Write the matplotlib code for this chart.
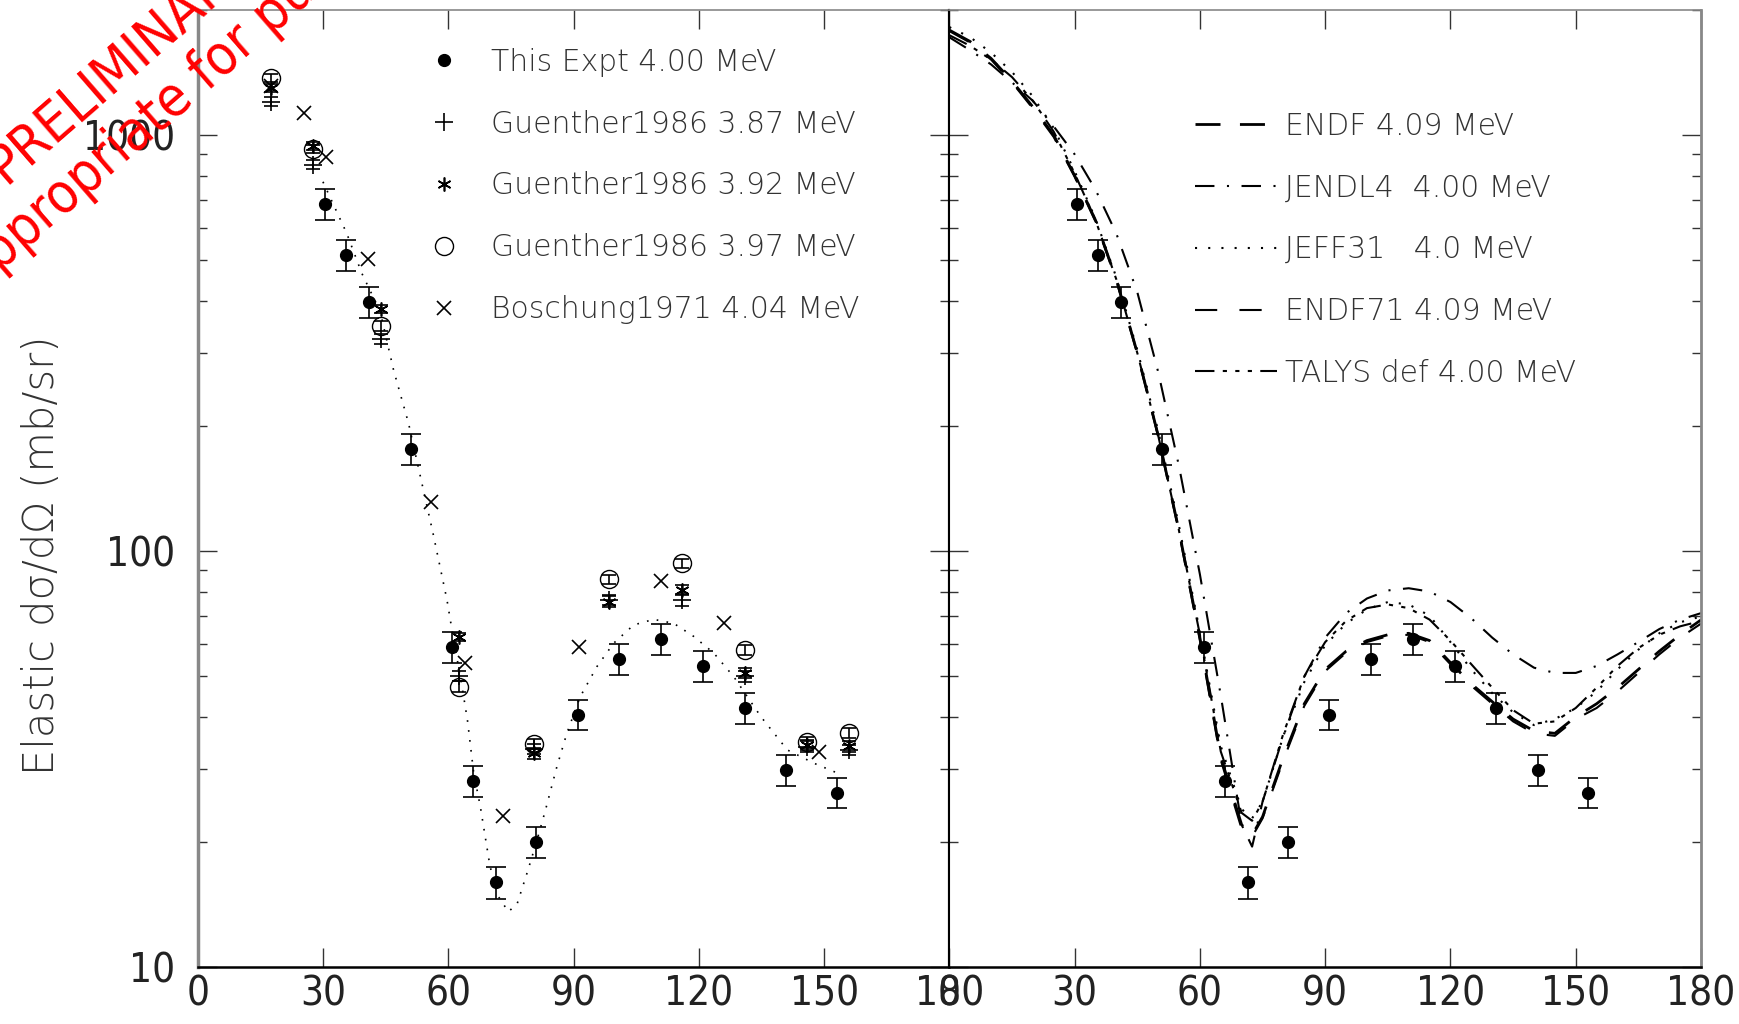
import numpy as np
import matplotlib
matplotlib.use("Agg")
import matplotlib.pyplot as plt
from matplotlib.ticker import LogLocator, NullFormatter

plt.rcParams['lines.scale_dashes'] = False

# ---- data ----
# this experiment, 4.00 MeV
expt_ang = [30.5, 35.5, 41, 51, 61, 66, 71.5, 81, 91, 101, 111, 121, 131, 141, 153]
expt_xs = [683, 515, 398, 176, 58.9, 28.0, 16.0, 20.0, 40.5, 55.0, 61.5, 53.1, 42.0, 29.8, 26.3]
expt_err = [58, 44, 34, 15, 5.0, 2.4, 1.4, 1.7, 3.4, 4.7, 5.2, 4.5, 3.6, 2.5, 2.2]

# Guenther 1986
g_ang = [17.5, 27.5, 44, 62.5, 80.5, 98.5, 116, 131, 146, 156]
g387 = [1205, 850, 324, 50.2, 33.5, 76.5, 76.4, 50.0, 33.9, 33.3]
g392 = [1300, 942, 382, 62.1, 32.7, 75.7, 80.7, 51.0, 34.2, 34.0]
g397 = [1374, 927, 348, 47.3, 34.4, 85.6, 93.5, 57.9, 34.7, 36.6]
g_err = [30, 22, 9, 1.4, 1.0, 2.2, 2.4, 1.5, 1.0, 1.0]

# Boschung 1971
b_ang = [17.5, 25.5, 30.7, 40.9, 55.8, 64.1, 73.1, 91.3, 111, 126, 148.7]
b_xs = [1310, 1133, 885, 504, 131, 53.8, 23.1, 59.0, 85.0, 67.1, 32.9]

# dotted fit through this experiment
fit_ang = [30, 33.3, 35.7, 39.3, 43.7, 46.9, 50.5, 56.4, 59.7, 60.9, 63.3, 64.6, 66.1,
           67.7, 70, 72, 74.4, 76.5, 79, 81, 83.2, 86, 88.4, 91.6, 95.6, 99.6, 104.4,
           109.2, 114, 118.8, 123.6, 128.4, 134.9, 141.2, 147.7, 153.2]
fit_xs = [773, 655, 581, 466, 377, 273, 203, 110, 76.4, 64.7, 47.3, 39.3, 29.3,
          24.3, 17.5, 14.8, 13.6, 14.2, 17.0, 19.8, 23.7, 30.3, 36.5, 44.7, 52.8, 60.1, 66.5,
          68.6, 67.1, 62.4, 56.9, 49.9, 40.0, 33.3, 30.9, 29.3]

# evaluations
ev_ang = [0, 5, 10, 15, 20, 25, 30, 35, 40, 45, 50, 55, 60, 65, 70, 72.5, 75, 80, 85, 90,
          95, 100, 105, 110, 115, 120, 125, 130, 135, 140, 145, 150, 155, 160, 165, 170, 175, 180]
endf = [1790, 1680, 1530, 1350, 1170, 1000, 800, 625, 450, 300, 190, 112, 62, 32, 22, 20.8, 23,
        32, 43, 52, 57.5, 61, 63, 63.5, 61, 54, 48, 43.5, 39.5, 37, 36.5, 40, 43, 47, 52, 57.5, 63, 68.4]
jendl = [1720, 1600, 1480, 1340, 1210, 1050, 900, 740, 580, 420, 270, 160, 88, 45, 22, 19.5, 25,
         36, 50, 62, 71, 77, 80.5, 81.5, 80, 75.5, 69, 62, 56.5, 52.5, 51, 51, 53, 56.5, 60.5, 65, 68.5, 71]
jeff = [1820, 1720, 1580, 1420, 1240, 1040, 820, 630, 455, 305, 195, 115, 64, 34, 24, 22.8, 25,
        36, 48.5, 59.5, 67, 72.5, 75.5, 74.5, 70, 60.5, 52, 45.6, 41, 38.2, 39.5, 42, 46, 52, 58, 63.5, 67.5, 69.7]
endf71 = [1780, 1670, 1520, 1340, 1160, 990, 795, 620, 447, 298, 189, 111, 61, 31.5, 21.5, 20.6, 22.8,
          31.5, 42.5, 51.5, 57, 60.5, 62.5, 63, 60.5, 53.5, 47.5, 43, 39, 36.5, 36, 39.5, 42, 46, 51, 56.5, 62, 67]
talys = [1740, 1640, 1520, 1380, 1210, 1020, 810, 625, 450, 300, 190, 112, 63, 33, 23.5, 22.5, 25,
         36.5, 50, 60.5, 68, 73, 74.5, 73, 68.5, 61, 53.5, 47, 41.5, 38.5, 39, 42, 47, 53, 58.5, 63, 66, 68]

xticks = [0, 30, 60, 90, 120, 150, 180]
xlabels = ['0', '30', '60', '90', '120', '150', '180']
yticks = [10, 100, 1000]
ylabels = ['10', '100', '1000']

tickfont = dict(family=['DejaVu Sans'], stretch='condensed', size=29, color='#222222')
legprop = dict(family='DejaVu Sans', weight='light', size=21.5)

fig = plt.figure(figsize=(17.4, 10.24), dpi=100)
axL = fig.add_axes([0.1136, 0.0554, 0.4320, 0.9348])
axR = fig.add_axes([0.5456, 0.0554, 0.4320, 0.9348], sharey=axL)

for ax in (axL, axR):
    ax.set_yscale('log')
    ax.set_xlim(0, 180)
    ax.set_ylim(10, 2000)
    ax.set_xticks(xticks)
    ax.set_xticklabels(xlabels, fontdict=tickfont)
    ax.yaxis.set_minor_locator(LogLocator(base=10, subs=np.arange(2, 10)))
    ax.yaxis.set_minor_formatter(NullFormatter())
    ax.tick_params(which='major', direction='in', length=13.5, width=1.0, top=True, right=True,
                   color='#333333')
    ax.tick_params(which='minor', direction='in', length=6.5, width=1.0, right=True, color='#333333')
    ax.tick_params(axis='x', pad=5)
    ax.tick_params(axis='y', pad=16)
    ax.spines['top'].set_color('#888888')
    ax.spines['top'].set_linewidth(1.2)
    ax.spines['bottom'].set_color('black')
    ax.spines['bottom'].set_linewidth(1.8)

axL.set_yticks(yticks)
axL.set_yticklabels(ylabels, fontdict=tickfont)
axL.spines['left'].set_color('#888888')
axL.spines['left'].set_linewidth(2.5)
axL.spines['right'].set_color('black')
axL.spines['right'].set_linewidth(1.5)
axR.spines['left'].set_color('black')
axR.spines['left'].set_linewidth(1.5)
axR.spines['right'].set_color('#888888')
axR.spines['right'].set_linewidth(2.0)
plt.setp(axR.get_yticklabels(), visible=False)

axL.set_ylabel('Elastic d\u03c3/d\u03a9 (mb/sr)', fontsize=30, family='DejaVu Sans',
               weight='light', color='#333333')
axL.yaxis.set_label_coords(-0.18, 0.43)

# ---- left panel: data ----
axL.plot(fit_ang, fit_xs, color='black', lw=1.2, dashes=(1.2, 6))
axL.errorbar(expt_ang, expt_xs, yerr=expt_err, fmt='none', ecolor='black', elinewidth=1.2,
             capsize=7, capthick=1.2)
for vals in (g387, g392, g397):
    axL.errorbar(g_ang, vals, yerr=g_err, fmt='none', ecolor='black', elinewidth=1.2,
                 capsize=5, capthick=1.2)
h1, = axL.plot(expt_ang, expt_xs, 'o', color='black', ms=8.5, ls='none',
               label='This Expt 4.00 MeV')
h2, = axL.plot(g_ang, g387, '+', color='black', ms=13, mew=1.2, ls='none',
               label='Guenther1986 3.87 MeV')
h3, = axL.plot(g_ang, g392, marker=(6, 2, 0), color='black', ms=10, mew=1.2, ls='none',
               label='Guenther1986 3.92 MeV')
h4, = axL.plot(g_ang, g397, 'o', mfc='none', mec='black', ms=13, mew=1.0, ls='none',
               label='Guenther1986 3.97 MeV')
h5, = axL.plot(b_ang, b_xs, 'x', color='black', ms=10, mew=1.2, ls='none',
               label='Boschung1971 4.04 MeV')

legL = axL.legend(handles=[h1, h2, h3, h4, h5], loc='upper left', bbox_to_anchor=(0.3078, 0.9606),
                  frameon=False, handlelength=1.0, handletextpad=1.09, labelspacing=1.1,
                  borderpad=0, borderaxespad=0, prop=legprop)
for t in legL.get_texts():
    t.set_color('#333333')

# ---- right panel: evaluations ----
axR.errorbar(expt_ang, expt_xs, yerr=expt_err, fmt='none', ecolor='black', elinewidth=1.2,
             capsize=7, capthick=1.2)
axR.plot(expt_ang, expt_xs, 'o', color='black', ms=8.5, ls='none')
r1, = axR.plot(ev_ang, endf, color='black', lw=2.0, dashes=(18, 14), label='ENDF 4.09 MeV')
r2, = axR.plot(ev_ang, jendl, color='black', lw=1.5, dashes=(14, 9, 1.5, 9), label='JENDL4  4.00 MeV')
r3, = axR.plot(ev_ang, jeff, color='black', lw=1.5, dashes=(1.5, 8), label='JEFF31   4.0 MeV')
r4, = axR.plot(ev_ang, endf71, color='black', lw=1.5, dashes=(16, 16), label='ENDF71 4.09 MeV')
r5, = axR.plot(ev_ang, talys, color='black', lw=1.5, dashes=(14, 6, 3, 6, 3, 6, 3, 6),
               label='TALYS def 4.00 MeV')

legR = axR.legend(handles=[r1, r2, r3, r4, r5], loc='upper left', bbox_to_anchor=(0.327, 0.894),
                  frameon=False, handlelength=2.73, handletextpad=0.28, labelspacing=1.1,
                  borderpad=0, borderaxespad=0, prop=legprop)
for t in legR.get_texts():
    t.set_color('#333333')

# ---- watermark ----
wm = dict(color='red', fontsize=40, family='DejaVu Sans', stretch='condensed',
          rotation=41, rotation_mode='anchor', ha='left', va='baseline')
fig.text(0.0029, 0.8193, 'PRELIMINARY', **wm)
fig.text(-0.0584, 0.6487, 'Not appropriate for publication', **wm)

fig.savefig('out.png', dpi=100)
